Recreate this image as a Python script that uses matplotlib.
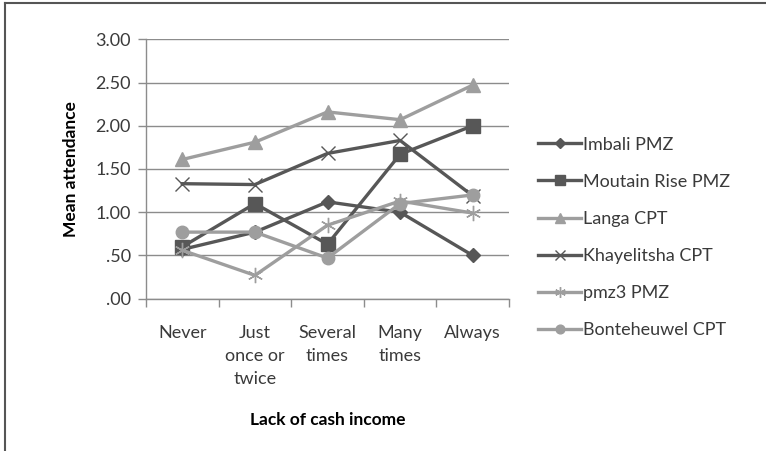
import matplotlib
matplotlib.use("Agg")
import matplotlib.pyplot as plt
from matplotlib.lines import Line2D

plt.rcParams['font.family'] = ['Lato', 'DejaVu Sans']

categories = ["Never", "Just\nonce or\ntwice", "Several\ntimes", "Many\ntimes", "Always"]
imbali = [0.57, 0.77, 1.12, 1.00, 0.50]
moutain_rise = [0.60, 1.10, 0.63, 1.67, 2.00]
langa = [1.61, 1.81, 2.16, 2.07, 2.47]
khayelitsha = [1.33, 1.32, 1.68, 1.83, 1.19]
pmz3 = [0.56, 0.27, 0.85, 1.13, 0.99]
bonteheuwel = [0.77, 0.77, 0.47, 1.10, 1.20]
yticks = [0.0, 0.5, 1.0, 1.5, 2.0, 2.5, 3.0]
ytick_labels = [".00", ".50", "1.00", "1.50", "2.00", "2.50", "3.00"]

dark = "#575757"
light = "#9e9e9e"

series = [
    ("Imbali PMZ", imbali, dark, dict(marker="D", markersize=7)),
    ("Moutain Rise PMZ", moutain_rise, dark, dict(marker="s", markersize=10)),
    ("Langa CPT", langa, light, dict(marker="^", markersize=10)),
    ("Khayelitsha CPT", khayelitsha, dark, dict(marker="x", markersize=10, markeredgewidth=1.0)),
    ("pmz3 PMZ", pmz3, light, dict(marker=(6, 2, 0), markersize=11, markeredgewidth=1.0)),
    ("Bonteheuwel CPT", bonteheuwel, light, dict(marker="o", markersize=9)),
]

fig = plt.figure(figsize=(7.66, 4.51), dpi=100)
ax = fig.add_axes([0.1906, 0.3377, 0.4739, 0.5752])

x = list(range(len(categories)))
for name, vals, color, mk in series:
    ax.plot(x, vals, color=color, linewidth=2.4, label=name,
            markerfacecolor=color, markeredgecolor=color, **mk)

ax.set_xlim(-0.5, len(categories) - 0.5)
ax.set_ylim(0, 3.0)
ax.set_yticks(yticks)
ax.set_yticklabels(ytick_labels)
ax.set_xticks(x)
ax.set_xticklabels(categories, linespacing=1.55, va="top")
ax.set_xticks([i - 0.5 for i in range(len(categories) + 1)], minor=True)
ax.tick_params(axis="x", which="major", length=0, pad=19, labelsize=13, colors="#3a3a3a")
ax.tick_params(axis="x", which="minor", length=6, width=1, color="#8c8c8c", direction="out")
ax.tick_params(axis="y", length=6, width=1, color="#8c8c8c", pad=5, labelsize=13, labelcolor="#3a3a3a")

ax.grid(axis="y", color="#8c8c8c", linewidth=1)
ax.set_axisbelow(True)
for side in ("top", "right"):
    ax.spines[side].set_visible(False)
for side in ("left", "bottom"):
    ax.spines[side].set_color("#8c8c8c")
    ax.spines[side].set_linewidth(1)

ax.set_ylabel("Mean attendance", fontsize=12.5, fontweight="bold", labelpad=12)
ax.set_xlabel("Lack of cash income", fontsize=12.5, fontweight="bold", labelpad=18)

leg = ax.legend(loc="center left", bbox_to_anchor=(1.055, 0.236), frameon=False,
                fontsize=13, labelspacing=1.17, handlelength=2.4, handletextpad=0.1,
                labelcolor="#3a3a3a", borderpad=0)
for h in leg.legend_handles:
    h.set_markersize(h.get_markersize() * 0.7)

# outer frame
fig.add_artist(Line2D([0.006, 1.0], [0.994, 0.994], transform=fig.transFigure,
                      color="#555555", linewidth=1.5))
fig.add_artist(Line2D([0.006, 0.006], [0.0, 0.994], transform=fig.transFigure,
                      color="#555555", linewidth=1.5))

fig.savefig("out.png", dpi=100)
